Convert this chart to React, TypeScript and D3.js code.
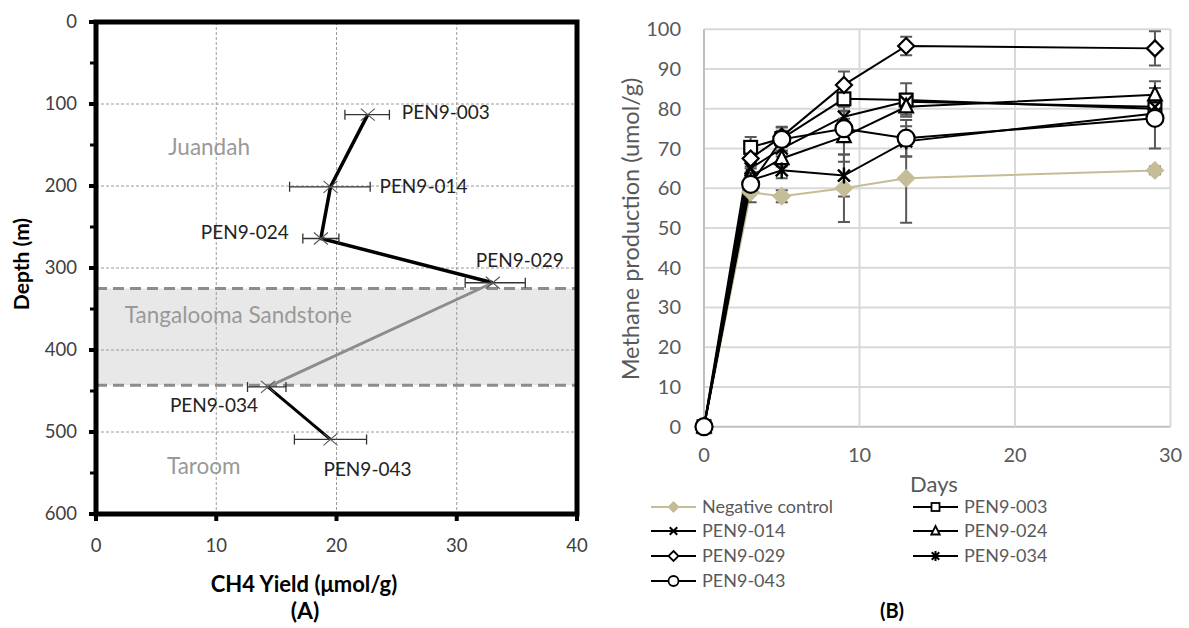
import React from "react";
import * as d3 from "d3";

// ---------- Panel A data ----------
const samplesA = ["PEN9-003", "PEN9-014", "PEN9-024", "PEN9-029", "PEN9-034", "PEN9-043"];
const yieldA = [22.6, 19.5, 18.7, 33.0, 14.3, 19.5];
const depthA = [113, 201, 264, 318, 445, 509];
const yieldLow = [20.7, 16.1, 17.2, 30.7, 12.6, 16.5];
const yieldHigh = [24.4, 22.8, 20.2, 35.7, 15.8, 22.5];
const xTicksA = [0, 10, 20, 30, 40];
const yTicksA = [0, 100, 200, 300, 400, 500, 600];
const formationNames = ["Juandah", "Tangalooma Sandstone", "Taroom"];
const formationYield = [6.0, 2.4, 5.9];
const formationDepths = [152, 357, 542];
const sandstoneTop = 325;
const sandstoneBottom = 443;

// ---------- Panel B data ----------
const days = [0, 3, 5, 9, 13, 29];
const seriesNames = ["Negative control", "PEN9-003", "PEN9-014", "PEN9-024", "PEN9-029", "PEN9-034", "PEN9-043"];
const negControl = [0, 59, 58, 60, 62.5, 64.5];
const pen003 = [0, 70.3, 72.5, 82.5, 82.2, 80];
const pen014 = [0, 65, 70, 78, 81.8, 80.5];
const pen024 = [0, 63, 67.5, 73, 80.5, 83.5];
const pen029 = [0, 67.5, 73, 86, 95.8, 95.2];
const pen034 = [0, 62, 64.5, 63.2, 71.8, 78.8];
const pen043 = [0, 61, 72.3, 75, 72.6, 77.6];
const errNeg = [0, 2.5, 1.5, 8.5, 11.2, 1];
const err003 = [0, 2.6, 2, 3, 4.2, 3];
const err014 = [0, 2, 2, 2.5, 2, 2];
const err024 = [0, 2, 2, 6.3, 2, 3.4];
const err029 = [0, 2, 2.5, 3.4, 2.3, 4.3];
const err034 = [0, 2, 2, 5.3, 3.8, 2];
const err043 = [0, 2, 3, 2.5, 4.6, 7.6];
const xTicksB = [0, 10, 20, 30];
const yTicksB = [0, 10, 20, 30, 40, 50, 60, 70, 80, 90, 100];

const FONT = "Lato, 'Open Sans', sans-serif";

type Shape = "diamondFill" | "square" | "x" | "triangle" | "diamond" | "asterisk" | "circle";
const shapes: Shape[] = ["diamondFill", "square", "x", "triangle", "diamond", "asterisk", "circle"];
const valuesB = [negControl, pen003, pen014, pen024, pen029, pen034, pen043];
const errorsB = [errNeg, err003, err014, err024, err029, err034, err043];
const TAN = "#c4bd97";

function Marker({ shape, cx, cy, s, sw = 2.2 }: { shape: Shape; cx: number; cy: number; s: number; sw?: number }) {
  switch (shape) {
    case "diamondFill":
      return <path d={`M${cx},${cy - s}L${cx + s},${cy}L${cx},${cy + s}L${cx - s},${cy}Z`} fill={TAN} stroke={TAN} strokeWidth={1} />;
    case "square":
      return <rect x={cx - s * 0.8} y={cy - s * 0.8} width={s * 1.6} height={s * 1.6} fill="#fff" stroke="#000" strokeWidth={sw} />;
    case "triangle":
      return <path d={`M${cx},${cy - s}L${cx + s * 0.85},${cy + s * 0.7}L${cx - s * 0.85},${cy + s * 0.7}Z`} fill="#fff" stroke="#000" strokeWidth={sw} />;
    case "diamond":
      return <path d={`M${cx},${cy - s}L${cx + s},${cy}L${cx},${cy + s}L${cx - s},${cy}Z`} fill="#fff" stroke="#000" strokeWidth={sw} />;
    case "circle":
      return <circle cx={cx} cy={cy} r={s} fill="#fff" stroke="#000" strokeWidth={sw} />;
    case "x": {
      const h = s * 0.75;
      return <path d={`M${cx - h},${cy - h}L${cx + h},${cy + h}M${cx - h},${cy + h}L${cx + h},${cy - h}`} stroke="#000" strokeWidth={sw + 0.2} />;
    }
    case "asterisk": {
      const h = s * 0.75;
      return <path d={`M${cx - h},${cy - h}L${cx + h},${cy + h}M${cx - h},${cy + h}L${cx + h},${cy - h}M${cx},${cy - s}L${cx},${cy + s}`} stroke="#000" strokeWidth={sw + 0.2} />;
    }
  }
  return null;
}

// label layout offsets (pixels from the point) for panel A
const labelDx = [34, 49, -32, -17, -98, -7];
const labelDy = [-2, 0, -6, -22, 18, 30];
const labelAnchor = ["start", "start", "end", "start", "start", "start"];

export default function App() {
  // Panel A scales
  const xA = d3.scaleLinear().domain([0, 40]).range([96, 577]);
  const yA = d3.scaleLinear().domain([0, 600]).range([22, 514]);
  const minorA = d3.range(50, 600, 100);
  const ptsA = yieldA.map((v, i) => [xA(v), yA(depthA[i])] as [number, number]);
  const line = d3.line();

  // Panel B scales
  const xB = d3.scaleLinear().domain([0, 30]).range([704, 1170.5]);
  const yB = d3.scaleLinear().domain([0, 100]).range([426.7, 29.3]);
  const lineB = d3.line<number>().x((_, i) => xB(days[i])).y((v) => yB(v));

  const legendCols = [651, 913];
  const legendRows = [507, 531, 556, 581];

  return (
    <svg width={1189} height={628} style={{ position: "absolute", left: 0, top: 0, fontFamily: FONT }}>
      <rect x={0} y={0} width={1189} height={628} fill="#fff" />
      {/* ================= Panel A ================= */}
      <rect x={xA(0)} y={yA(sandstoneTop)} width={xA(40) - xA(0)} height={yA(sandstoneBottom) - yA(sandstoneTop)} fill="#e8e8e8" />
      {xTicksA.slice(1, -1).map((t) => (
        <line key={"gx" + t} x1={xA(t)} x2={xA(t)} y1={yA(0)} y2={yA(600)} stroke="#9a9a9a" strokeWidth={1} strokeDasharray="3 2" />
      ))}
      {yTicksA.slice(1, -1).map((t) => (
        <line key={"gy" + t} x1={xA(0)} x2={xA(40)} y1={yA(t)} y2={yA(t)} stroke="#9a9a9a" strokeWidth={1} strokeDasharray="3 2" />
      ))}
      {[sandstoneTop, sandstoneBottom].map((d) => (
        <line key={"sb" + d} x1={xA(0)} x2={xA(40)} y1={yA(d)} y2={yA(d)} stroke="#8c8c8c" strokeWidth={3} strokeDasharray="11 6" />
      ))}
      {formationNames.map((n, i) => (
        <text key={n} x={xA(formationYield[i])} y={yA(formationDepths[i])} dy="0.35em" textAnchor="start" fontSize={22.5} fill="#999">
          {n}
        </text>
      ))}
      {/* line segments */}
      <path d={line(ptsA.slice(0, 4)) || ""} fill="none" stroke="#000" strokeWidth={3.5} />
      <path d={line(ptsA.slice(3, 5)) || ""} fill="none" stroke="#8c8c8c" strokeWidth={3} />
      <path d={line(ptsA.slice(4, 6)) || ""} fill="none" stroke="#000" strokeWidth={3} />
      {/* error bars and markers */}
      {samplesA.map((s, i) => {
        const y = yA(depthA[i]);
        const x1 = xA(yieldLow[i]);
        const x2 = xA(yieldHigh[i]);
        const [cx, cy] = ptsA[i];
        return (
          <g key={s}>
            <path d={`M${x1},${y}L${x2},${y}M${x1},${y - 5}L${x1},${y + 5}M${x2},${y - 5}L${x2},${y + 5}`} stroke="#333" strokeWidth={1.3} fill="none" />
            <path d={`M${cx - 7},${cy - 6}L${cx + 7},${cy + 6}M${cx - 7},${cy + 6}L${cx + 7},${cy - 6}`} stroke="#555" strokeWidth={1.1} />
            <text x={cx + labelDx[i]} y={cy + labelDy[i]} dy="0.35em" textAnchor={labelAnchor[i] as any} fontSize={19} fill="#222">
              {s}
            </text>
          </g>
        );
      })}
      {/* frame */}
      <rect x={xA(0)} y={yA(0)} width={xA(40) - xA(0)} height={yA(600) - yA(0)} fill="none" stroke="#000" strokeWidth={5} />
      {yTicksA.map((t) => (
        <line key={"ty" + t} x1={xA(0) - 7} x2={xA(0)} y1={yA(t)} y2={yA(t)} stroke="#000" strokeWidth={4} />
      ))}
      {minorA.map((t) => (
        <line key={"my" + t} x1={xA(0) - 6} x2={xA(0)} y1={yA(t)} y2={yA(t)} stroke="#000" strokeWidth={3} />
      ))}
      {xTicksA.map((t) => (
        <line key={"tx" + t} x1={xA(t)} x2={xA(t)} y1={yA(600)} y2={yA(600) + 7} stroke="#000" strokeWidth={4} />
      ))}
      {yTicksA.map((t) => (
        <text key={"ly" + t} x={77} y={yA(t)} dy="0.35em" textAnchor="end" fontSize={18.5} fill="#404040">
          {t}
        </text>
      ))}
      {xTicksA.map((t) => (
        <text key={"lx" + t} x={xA(t)} y={546} dy="0.35em" textAnchor="middle" fontSize={18.5} fill="#404040">
          {t}
        </text>
      ))}
      <text x={304} y={592} textAnchor="middle" fontSize={22} fontWeight="bold" fill="#000">
        CH4 Yield (μmol/g)
      </text>
      <text x={305} y={619} textAnchor="middle" fontSize={23} fontWeight="bold" fill="#000">
        (A)
      </text>
      <text transform={`translate(22,264) rotate(-90)`} dy="0.35em" textAnchor="middle" fontSize={21} fontWeight="bold" fill="#000">
        Depth (m)
      </text>

      {/* ================= Panel B ================= */}
      {yTicksB.map((t) => (
        <line key={"bgy" + t} x1={xB(0)} x2={xB(30)} y1={yB(t)} y2={yB(t)} stroke={t === 0 ? "#bfbfbf" : "#d9d9d9"} strokeWidth={2} />
      ))}
      {xTicksB.map((t) => (
        <line key={"bgx" + t} x1={xB(t)} x2={xB(t)} y1={yB(0)} y2={yB(100)} stroke={t === 0 ? "#bfbfbf" : "#d9d9d9"} strokeWidth={2} />
      ))}
      {yTicksB.map((t) => (
        <text key={"bly" + t} x={681} y={yB(t)} dy="0.35em" textAnchor="end" fontSize={20} fill="#595959">
          {t}
        </text>
      ))}
      {xTicksB.map((t) => (
        <text key={"blx" + t} x={xB(t)} y={455} dy="0.35em" textAnchor="middle" fontSize={20} fill="#595959">
          {t}
        </text>
      ))}
      <text x={934} y={484} dy="0.35em" textAnchor="middle" fontSize={22} fill="#595959">
        Days
      </text>
      <text transform={`translate(631,229) rotate(-90)`} dy="0.35em" textAnchor="middle" fontSize={23.5} fill="#595959">
        Methane production (umol/g)
      </text>

      {valuesB.map((vals, si) => (
        <g key={"s" + si}>
          <path d={lineB(vals) || ""} fill="none" stroke={si === 0 ? TAN : "#000"} strokeWidth={2} />
          {vals.map((v, i) => {
            const e = errorsB[si][i];
            if (!e) return null;
            const x = xB(days[i]);
            const y1 = yB(v - e);
            const y2 = yB(v + e);
            return (
              <path key={i} d={`M${x},${y1}L${x},${y2}M${x - 6},${y1}L${x + 6},${y1}M${x - 6},${y2}L${x + 6},${y2}`} stroke="#595959" strokeWidth={2} fill="none" />
            );
          })}
        </g>
      ))}
      {valuesB.map((vals, si) => (
        <g key={"m" + si}>
          {vals.map((v, i) => (
            <Marker key={i} shape={shapes[si]} cx={xB(days[i])} cy={yB(v)} s={si === 6 ? 8.5 : si === 0 ? 9 : 8} />
          ))}
        </g>
      ))}

      {/* legend */}
      {seriesNames.map((n, i) => {
        const col = i % 2 === 1 ? 1 : 0;
        const row = Math.floor(i / 2);
        const lx = legendCols[col];
        const ly = legendRows[row];
        return (
          <g key={"lg" + n}>
            <line x1={lx} x2={lx + 45} y1={ly} y2={ly} stroke={i === 0 ? TAN : "#000"} strokeWidth={2} />
            <Marker shape={shapes[i]} cx={lx + 22.5} cy={ly} s={i === 0 ? 5.5 : 5} sw={1.8} />
            <text x={lx + 51} y={ly} dy="0.35em" fontSize={18} fill="#595959">
              {n}
            </text>
          </g>
        );
      })}
      <text x={892} y={618} textAnchor="middle" fontSize={20} fontWeight="bold" fill="#000">
        (B)
      </text>
    </svg>
  );
}
